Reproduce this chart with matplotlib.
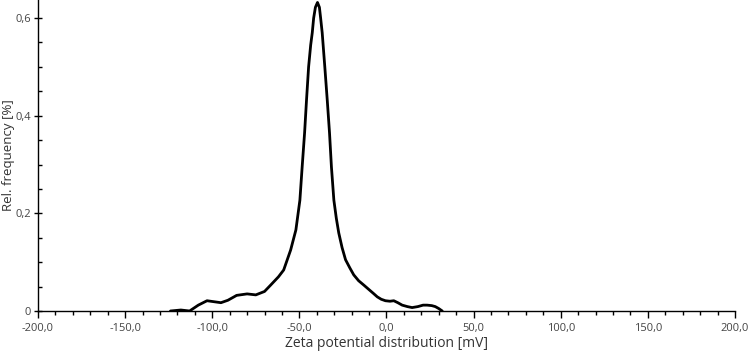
import matplotlib.pyplot as plt
from matplotlib.ticker import MultipleLocator, FuncFormatter

# zeta potential [mV] and relative frequency [%]
zeta = [-124, -118, -113, -108, -103, -99, -95, -91, -86, -80, -75, -70,
        -66.5, -62, -59, -55, -52, -49.7, -48.4, -47.0, -45.9, -44.7, -43.5,
        -42.6, -41.8, -40.8, -39.6, -38.5, -37.8, -36.9, -35.4, -34.0, -32.7,
        -31.6, -30.2, -28.8, -27.4, -25.5, -23.5, -21, -18.8, -16, -13, -10.1,
        -7.5, -5.3, -3, -0.6, 2, 4.2, 6.5, 9, 12, 14.7, 18, 21, 23.3, 26, 28,
        30, 32]
freq = [0.0, 0.002, 0.0, 0.012, 0.021, 0.019, 0.017, 0.022, 0.032, 0.035,
        0.033, 0.040, 0.053, 0.070, 0.084, 0.125, 0.166, 0.227, 0.295, 0.365,
        0.432, 0.500, 0.545, 0.570, 0.600, 0.622, 0.632, 0.622, 0.600, 0.570,
        0.500, 0.432, 0.365, 0.295, 0.227, 0.190, 0.160, 0.130, 0.105, 0.088,
        0.074, 0.062, 0.053, 0.044, 0.036, 0.029, 0.024, 0.021, 0.020, 0.021,
        0.017, 0.012, 0.009, 0.007, 0.009, 0.012, 0.012, 0.011, 0.009, 0.005,
        0.0]

plt.rcParams['font.family'] = ['Open Sans', 'DejaVu Sans']

fig = plt.figure(figsize=(7.48, 3.53), dpi=100)
ax = fig.add_axes([0.0508, 0.119, 0.9318, 0.881])

ax.plot(zeta, freq, color='black', linewidth=2.0, solid_joinstyle='round',
        solid_capstyle='round')

ax.set_xlim(-200, 200)
ax.set_ylim(0, 0.637)

for s in ['top', 'right']:
    ax.spines[s].set_visible(False)
for s in ['left', 'bottom']:
    ax.spines[s].set_linewidth(1.0)

ax.xaxis.set_major_locator(MultipleLocator(50))
ax.xaxis.set_minor_locator(MultipleLocator(10))
ax.yaxis.set_major_locator(MultipleLocator(0.2))
ax.yaxis.set_minor_locator(MultipleLocator(0.05))

ax.xaxis.set_major_formatter(FuncFormatter(lambda v, p: ('%.1f' % v).replace('.', ',')))
ax.yaxis.set_major_formatter(FuncFormatter(lambda v, p: '0' if abs(v) < 1e-9 else ('%.1f' % v).replace('.', ',')))

ax.tick_params(axis='x', which='major', direction='out', length=5, width=1,
               labelsize=8, labelcolor='#444444', pad=4)
ax.tick_params(axis='x', which='minor', direction='out', length=3, width=1)
ax.tick_params(axis='y', which='major', direction='inout', length=6, width=1,
               labelsize=8, labelcolor='#444444', pad=2)
ax.tick_params(axis='y', which='minor', direction='in', length=3, width=1)

ax.set_xlabel('Zeta potential distribution [mV]', fontsize=10, color='#333333', labelpad=1)
ax.set_ylabel('Rel. frequency [%]', fontsize=9.5, color='#333333')
ax.yaxis.set_label_coords(-0.033, 0.5)

fig.savefig('out.png', dpi=100)
